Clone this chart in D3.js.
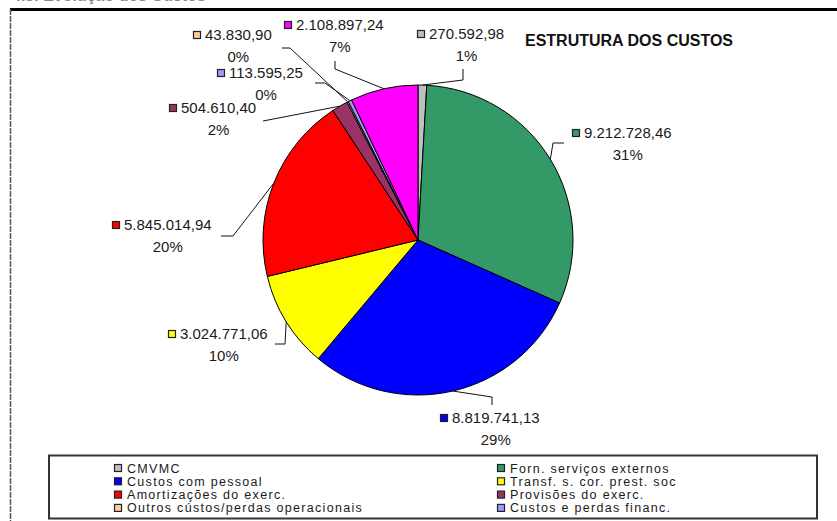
<!DOCTYPE html>
<html>
<head>
    <meta charset="utf-8">
    <title>Estrutura dos Custos</title>
    <script src="https://d3js.org/d3.v7.min.js"></script>
    <style>
        body { margin: 0; background: #fff; }
        text { font-family: "Liberation Sans", Arial, sans-serif; fill: #1a1a1a; }
    </style>
</head>
<body>
    <div id="chart"></div>
    <script>

        // data (clockwise from 12 o'clock)
        var categories = ["CMVMC", "Forn. serviços externos", "Custos com pessoal", "Transf. s. cor. prest. soc",
            "Amortizações do exerc.", "Provisões do exerc.", "Outros cústos/perdas operacionais",
            "Custos e perdas financ.", "Outros"];
        var values = [270592.98, 9212728.46, 8819741.13, 3024771.06, 5845014.94, 504610.40, 43830.90, 113595.25, 2108897.24];
        var colors = ["#c0c0c0", "#339966", "#0000ff", "#ffff00", "#ff0000", "#993366", "#ffcc99", "#9999ff", "#ff00ff"];
        var legendCount = 8; // the magenta slice has no legend entry

        // label layout: [square x, value line y], then leader bends after the edge point
        var labelPos = [[417, 34], [572, 133], [440, 418], [168, 334], [112, 225], [169, 108], [193, 35], [217, 73], [284, 25]];
        var leaderBends = [
            [[463, 80], [463, 69]],
            [[553, 143], [564, 143]],
            [[492, 397], [492, 405]],
            [[285, 344], [275, 344]],
            [[233, 236], [221, 236]],
            [[263, 121]],
            [[290, 48], [282, 48]],
            [[325, 83], [315, 83]],
            [[335, 69], [335, 61]]
        ];

        var width = 837, height = 521;
        var cx = 418, cy = 240, radius = 155;

        var pt = d3.formatLocale({ decimal: ",", thousands: ".", grouping: [3], currency: ["", "€"] });
        var fmtValue = pt.format(",.2f");
        var total = d3.sum(values);
        var fmtPct = function(v) { return Math.round(v / total * 100) + "%"; };

        var svg = d3.select("#chart")
            .append("svg")
            .attr("width", width)
            .attr("height", height);

        // heading of the page, cut off at the top
        svg.append("text")
            .attr("x", 12)
            .attr("y", 1)
            .style("font-size", "16px")
            .style("font-weight", "bold")
            .style("fill", "#888")
            .text("4.3. Evolução dos Custos");

        // chart frame
        svg.append("line").attr("x1", 10).attr("x2", width).attr("y1", 9.5).attr("y2", 9.5)
            .attr("stroke", "#000").attr("stroke-width", 3);
        svg.append("line").attr("x1", 10.5).attr("x2", 10.5).attr("y1", 9).attr("y2", height)
            .attr("stroke", "#555").attr("stroke-width", 1.5).attr("stroke-dasharray", "6,1");

        svg.append("text")
            .attr("x", 525)
            .attr("y", 46)
            .style("font-size", "16px")
            .style("font-weight", "bold")
            .style("fill", "#111")
            .text("ESTRUTURA DOS CUSTOS");

        var data = categories.map(function(c, i) { return { name: c, value: values[i], color: colors[i], i: i }; });

        var pie = d3.pie().sort(null).value(function(d) { return d.value; });
        var arcs = pie(data);
        var arc = d3.arc().innerRadius(0).outerRadius(radius);
        var edge = d3.arc().innerRadius(radius).outerRadius(radius);

        var g = svg.append("g").attr("transform", "translate(" + cx + "," + cy + ")");

        g.selectAll("path.slice")
            .data(arcs)
            .join("path")
            .attr("class", "slice")
            .attr("d", arc)
            .attr("fill", function(d) { return d.data.color; })
            .attr("stroke", "#000")
            .attr("stroke-width", 1);

        // leader lines
        var line = d3.line();
        svg.selectAll("path.leader")
            .data(arcs)
            .join("path")
            .attr("class", "leader")
            .attr("d", function(d) {
                var c = edge.centroid(d);
                var pts = [[cx + c[0], cy + c[1]]].concat(leaderBends[d.index]);
                return line(pts);
            })
            .attr("fill", "none")
            .attr("stroke", "#111")
            .attr("stroke-width", 1);

        // data labels
        var labels = svg.selectAll("g.label")
            .data(arcs)
            .join("g")
            .attr("class", "label")
            .attr("transform", function(d) { return "translate(" + labelPos[d.index][0] + "," + labelPos[d.index][1] + ")"; });

        labels.append("rect")
            .attr("x", 0.5).attr("y", -3.5)
            .attr("width", 7).attr("height", 7)
            .attr("fill", function(d) { return d.data.color; })
            .attr("stroke", "#222")
            .attr("stroke-width", 1.2);

        labels.append("text")
            .attr("x", 12)
            .attr("y", 5)
            .style("font-size", "15px")
            .text(function(d) { return fmtValue(d.data.value); });

        labels.append("text")
            .attr("x", function(d) {
                var w = this.parentNode.querySelector("text").getComputedTextLength();
                return 12 + w / 2;
            })
            .attr("y", 26.5)
            .attr("text-anchor", "middle")
            .style("font-size", "15px")
            .text(function(d) { return fmtPct(d.data.value); });

        // legend
        var legend = svg.append("g");
        legend.append("rect")
            .attr("x", 49).attr("y", 455.5)
            .attr("width", 768).attr("height", 63)
            .attr("fill", "#fff")
            .attr("stroke", "#333")
            .attr("stroke-width", 2);

        var legendItems = legend.selectAll("g.item")
            .data(data.slice(0, legendCount))
            .join("g")
            .attr("class", "item")
            .attr("transform", function(d, i) {
                var col = i % 2, row = Math.floor(i / 2);
                return "translate(" + (col === 0 ? 114 : 497) + "," + (468 + row * 13.3) + ")";
            });

        legendItems.append("rect")
            .attr("x", 0.5).attr("y", -3.5)
            .attr("width", 7).attr("height", 7)
            .attr("fill", function(d) { return d.color; })
            .attr("stroke", "#222")
            .attr("stroke-width", 1.2);

        legendItems.append("text")
            .attr("x", 13)
            .attr("y", 4.5)
            .style("font-size", "12.5px")
            .style("letter-spacing", "1.3px")
            .text(function(d) { return d.name; });

    </script>
</body>
</html>
